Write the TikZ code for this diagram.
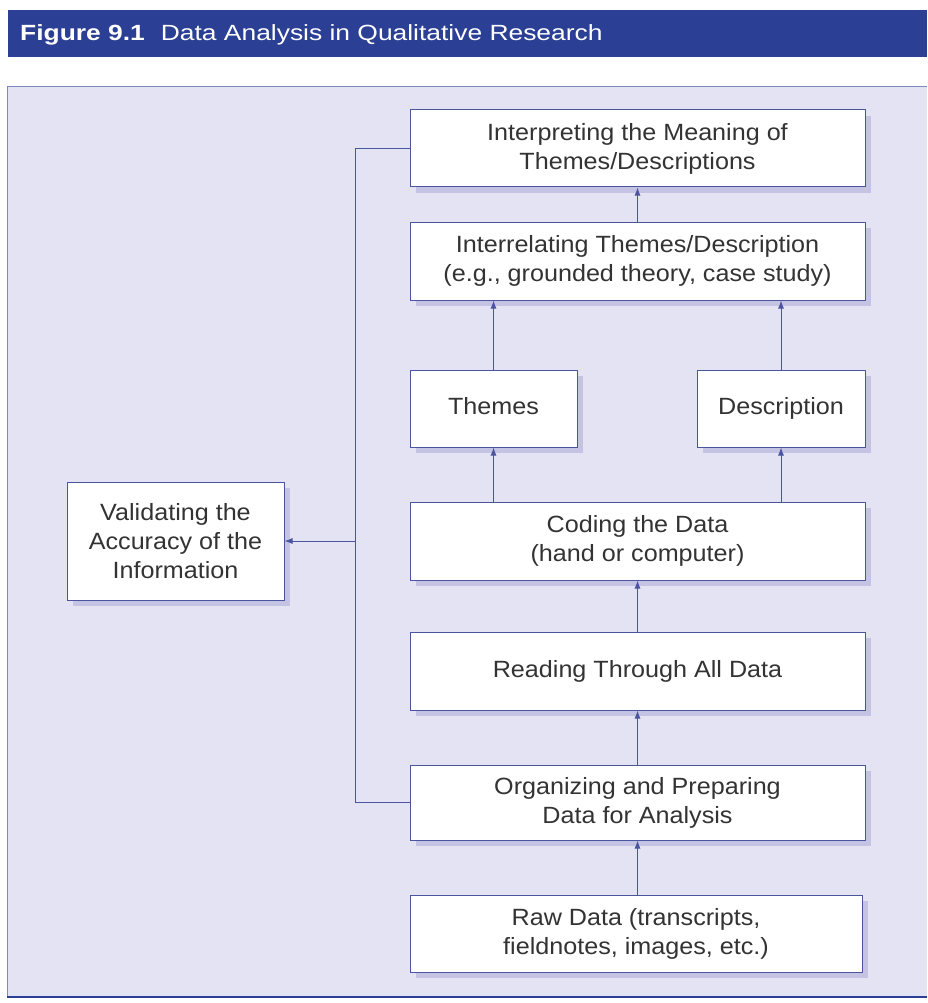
\documentclass[tikz,border=0pt]{standalone}
\usepackage{fontspec}
\setmainfont{Liberation Sans}
\newfontfamily\boxfont{Liberation Sans}[FakeStretch=1.07]
\newfontfamily\titlefont{Liberation Sans}[FakeStretch=1.2]
\usetikzlibrary{arrows.meta,shadows}
\definecolor{barblue}{HTML}{2B3F94}
\definecolor{panel}{HTML}{E4E3F3}
\definecolor{edge}{HTML}{4B559F}
\definecolor{txt}{HTML}{333333}
\definecolor{shade}{HTML}{C4C3E3}
\begin{document}
\begin{tikzpicture}[x=1pt,y=-1pt,
  stepbox/.style={draw=edge, line width=1pt, fill=white, text=txt,
    font=\boxfont\fontsize{23.5}{29}\selectfont, align=center, inner sep=0pt,
    drop shadow={shadow xshift=6pt, shadow yshift=-6pt, fill=shade, opacity=1}},
  link/.style={draw=edge, line width=1pt},
  arr/.style={link, -{Latex[length=8pt,width=6pt]}}]
\useasboundingbox (0,0) rectangle (927,1003);
\fill[white] (0,0) rectangle (927,1003);
% title bar
\fill[barblue] (8,10) rectangle (927,57);
\node[anchor=west, text=white, font=\titlefont\fontsize{22}{24}\selectfont, inner sep=0pt] (title) at (20,35)
  {\textbf{Figure 9.1}\hspace{16pt}Data Analysis in Qualitative Research};
% panel
\fill[panel] (7,86) rectangle (927,997);
\draw[edge!70, line width=0.8pt] (927,86) -- (7,86) -- (7,997);
\draw[barblue, line width=1.6pt] (7,997) -- (927,997);
% boxes
\node[stepbox, minimum width=455pt, minimum height=77pt] (interp) at (637.5,148.5)
  {Interpreting the Meaning of\\Themes/Descriptions};
\node[stepbox, minimum width=455pt, minimum height=78pt] (interrel) at (637.5,261)
  {Interrelating Themes/Description\\(e.g., grounded theory, case study)};
\node[stepbox, minimum width=167pt, minimum height=77pt, text height=17pt, text depth=5pt] (themes) at (493.5,408.5) {Themes};
\node[stepbox, minimum width=168pt, minimum height=77pt, text height=17pt, text depth=5pt] (descr) at (781,408.5) {Description};
\node[stepbox, minimum width=455pt, minimum height=78pt] (coding) at (637.5,541)
  {Coding the Data\\(hand or computer)};
\node[stepbox, minimum width=455pt, minimum height=78pt] (reading) at (637.5,671)
  {Reading Through All Data};
\node[stepbox, minimum width=455pt, minimum height=75pt] (organ) at (637.5,802.5)
  {Organizing and Preparing\\Data for Analysis};
\node[stepbox, minimum width=452pt, minimum height=77pt] (raw) at (636,933.5)
  {Raw Data (transcripts,\\fieldnotes, images, etc.)};
\node[stepbox, minimum width=217pt, minimum height=118pt] (valid) at (175.5,541)
  {Validating the\\Accuracy of the\\Information};
% vertical flow
\draw[arr] (organ.south |- raw.north) -- (organ.south);
\draw[arr] (organ) -- (reading);
\draw[arr] (reading) -- (coding);
\draw[arr] (coding.north -| themes) -- (themes);
\draw[arr] (coding.north -| descr) -- (descr);
\draw[arr] (themes) -- (themes |- interrel.south);
\draw[arr] (descr) -- (descr |- interrel.south);
\draw[arr] (interrel) -- (interp);
% validation bracket
\coordinate (spine) at (355,541);
\draw[link] (interp.west) -- (interp.west -| spine) -- (organ.west -| spine) -- (organ.west);
\draw[arr] (spine) -- (valid.east);
\end{tikzpicture}
\end{document}
